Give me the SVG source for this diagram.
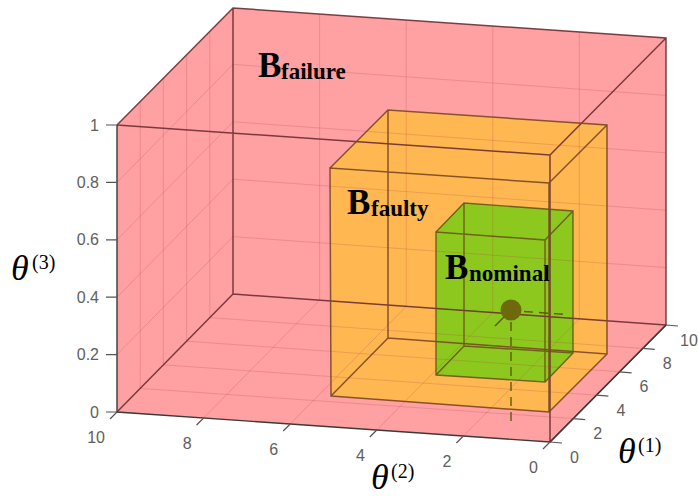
<svg xmlns="http://www.w3.org/2000/svg" width="699" height="496" viewBox="0 0 699 496">
<style>
.grid{stroke:#b03c40;stroke-opacity:0.22;stroke-width:1;fill:none}
.e-red{stroke:#6a2f33;stroke-width:1.5;fill:none;stroke-opacity:0.9}
.e-or{stroke:#7a4722;stroke-width:1.5;fill:none;stroke-opacity:0.9}
.e-gr{stroke:#6a5418;stroke-width:1.4;fill:none;stroke-opacity:0.9}
.axis{stroke:#3a3a3a;stroke-width:1.4;fill:none}
.tick{stroke:#555;stroke-width:1.2;fill:none}
.tl{font-family:"Liberation Sans",Arial,sans-serif;font-size:16px;fill:#606060}
.bl{font-family:"Liberation Serif","Times New Roman",serif;font-weight:bold;fill:#000}
.big{font-size:35px}
.sub{font-size:23px}
.th{font-family:"Liberation Serif","Times New Roman",serif;fill:#000}
.thb{font-size:36px;font-style:italic}
.ths{font-size:20px}
.proj{stroke:#5e5a08;stroke-width:1.4;fill:none}
</style>
<rect width="699" height="496" fill="#fff"/>

<g id="box-failure">
<polygon points="117,125 233,8 666,38 666,325 550,442 117,412" fill="#ffa0a3"/>
</g>
<g id="box-faulty">
<polygon points="330,168 388,110 607,125 607,354 549,412 331,396" fill="#ffb752"/>
</g>
<g id="box-nominal">
<polygon points="436,232 464,203 573,211 573,353 545,382 436,375" fill="#8dc81e"/>
</g>

<g id="grid">
<path class="grid" d="M319.6,14 V300.2 M406.2,20 V306.4 M492.8,26 V312.6 M579.4,32 V318.8
M233,236.6 L666,267.6 M233,179.2 L666,210.2 M233,121.8 L666,152.8 M233,64.4 L666,95.4
M140.2,101.6 V388.4 M163.4,78.2 V364.8 M186.6,54.8 V341.2 M209.8,31.4 V317.6
M117,354.6 L233,236.6 M117,297.2 L233,179.2 M117,239.8 L233,121.8 M117,182.4 L233,64.4
M203.6,418 L319.6,300.2 M290.2,424 L406.2,306.4 M376.8,430 L492.8,312.6 M463.4,436 L579.4,318.8
M140.2,388.4 L573.2,418.6 M163.4,364.8 L596.4,395.2 M186.6,341.2 L619.6,371.8 M209.8,317.6 L642.8,348.4"/>
</g>

<g id="edges-failure">
<path class="e-red" d="M233,8 V294 M233,294 L666,325 M233,294 L117,412 M117,125 L233,8 L666,38 V325 L550,442 M117,125 L550,155 L666,38 M550,155 V442"/>
</g>
<g id="edges-faulty">
<path class="e-or" d="M331,396 L549,412 L549,183 L330,168 Z M388,338 L607,354 L607,125 L388,110 Z M331,396 L388,338 M549,412 L607,354 M549,183 L607,125 M330,168 L388,110"/>
</g>
<g id="edges-nominal">
<path class="e-gr" d="M436,375 L545,382 L545,240 L436,232 Z M464,346 L573,353 L573,211 L464,203 Z M436,375 L464,346 M545,382 L573,353 M545,240 L573,211 M436,232 L464,203"/>
</g>

<g id="axes">
<path class="axis" d="M117,125 V412 L550,442 L666,325"/>
<path class="tick" d="M106,412 H117 M106,354.6 H117 M106,297.2 H117 M106,239.8 H117 M106,182.4 H117 M106,125 H117"/>
<path class="tick" d="M117,412 l-7,7 M203.6,418 l-7,7 M290.2,424 l-7,7 M376.8,430 l-7,7 M463.4,436 l-7,7 M550,442 l-7,7"/>
<path class="tick" d="M550,442 l12,1 M573.2,418.6 l12,1 M596.4,395.2 l12,1 M619.6,371.8 l12,1 M642.8,348.4 l12,1 M666,325 l12,1"/>
<g class="tl" text-anchor="end">
<text x="99" y="417.5">0</text>
<text x="99" y="360">0.2</text>
<text x="99" y="302.7">0.4</text>
<text x="99" y="245.3">0.6</text>
<text x="99" y="188">0.8</text>
<text x="99" y="130.5">1</text>
<text x="105" y="442.5">10</text>
<text x="191.6" y="448.5">8</text>
<text x="278.2" y="454.5">6</text>
<text x="364.8" y="460.5">4</text>
<text x="451.4" y="466.5">2</text>
<text x="538" y="472.5">0</text>
</g>
<g class="tl">
<text x="570" y="462.5">0</text>
<text x="593.2" y="439.1">2</text>
<text x="616.4" y="415.7">4</text>
<text x="639.6" y="392.3">6</text>
<text x="662.8" y="368.9">8</text>
<text x="680" y="345.5">10</text>
</g>
</g>

<g id="point">
<path class="proj" stroke-dasharray="9,6" d="M511,322 V424"/>
<path class="proj" stroke-dasharray="9,6" d="M524,311.5 L566,314.5"/>
<path class="proj" d="M504,317 L495,326"/>
<circle cx="511" cy="310" r="10.5" fill="#6e6a0c"/>
</g>

<g id="label-failure" class="bl">
<text x="258" y="77" class="big">B</text>
<text x="281" y="79" class="sub">failure</text>
</g>
<g id="label-faulty" class="bl">
<text x="347" y="214" class="big">B</text>
<text x="371" y="216" class="sub">faulty</text>
</g>
<g id="label-nominal" class="bl">
<text x="445" y="279" class="big">B</text>
<text x="469" y="281" class="sub">nominal</text>
</g>

<g id="axis-labels" class="th">
<text x="11" y="280" class="thb">θ</text><text x="32" y="269" class="ths">(3)</text>
<text x="371" y="489" class="thb">θ</text><text x="391" y="478" class="ths">(2)</text>
<text x="618" y="463" class="thb">θ</text><text x="638" y="452" class="ths">(1)</text>
</g>
</svg>
